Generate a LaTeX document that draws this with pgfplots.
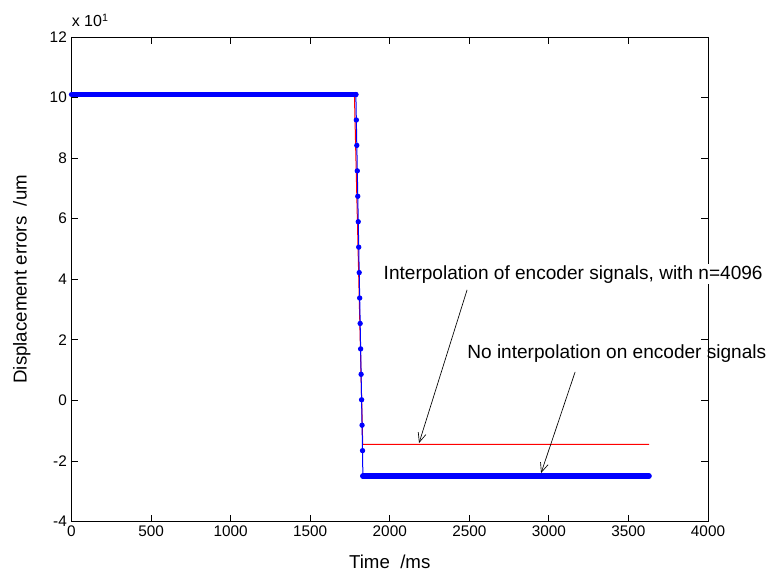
\documentclass[border=0pt]{standalone}
\usepackage{fontspec}
\setmainfont{Liberation Sans}
\usepackage{pgfplots}
\pgfplotsset{compat=1.18}
\usetikzlibrary{arrows.meta}
\begin{document}
\begin{tikzpicture}
\useasboundingbox[fill=white] (0,0) rectangle (575.25pt,431.25pt);
\begin{axis}[
  at={(53.625pt,40.125pt)}, anchor=south west,
  scale only axis, width=477.375pt, height=363.375pt,
  xmin=0, xmax=4000, ymin=-4, ymax=12,
  xtick={0,500,...,4000}, ytick={-4,-2,...,12},
  tick align=inside, major tick length=5pt,
  tick style={black, line width=0.6pt},
  axis line style={line width=0.6pt},
  scaled ticks=false,
  /pgf/number format/assume math mode=true,
  /pgf/number format/1000 sep={},
  tick label style={font=\fontsize{11.5}{13}\selectfont},
  label style={font=\fontsize{14}{16}\selectfont},
  xlabel={Time\ \ /ms},
  ylabel={Displacement errors\ \ /um},
  xlabel style={at={(axis description cs:0.5,-0.0837)}, anchor=center},
  ylabel style={at={(axis description cs:-0.0781,0.5)}, anchor=center},
  clip=false,
]
% red: interpolation n=4096
\addplot[red, line width=0.75pt, mark=none] coordinates {
  (0,10.1) (1778,10.1) (1830,-1.45) (3630,-1.45)
};
% blue: no interpolation, thick flat parts
\addplot[blue, line width=4pt, line cap=round, mark=none] coordinates {
  (0,10.1) (1787,10.1)
};
\addplot[blue, line width=4pt, line cap=round, mark=none] coordinates {
  (1831,-2.5) (3630,-2.5)
};
% blue drop with sample markers
\addplot[blue, line width=0.75pt, mark=*, mark size=1.6pt] coordinates {
  (1787,10.1) (1790,9.26) (1793,8.42) (1796,7.58) (1799,6.74) (1802,5.9)
  (1805,5.06) (1808,4.22) (1811,3.38) (1814,2.54) (1817,1.7) (1820,0.86)
  (1823,0.02) (1826,-0.82) (1829,-1.66) (1831,-2.5)
};
\node[anchor=west, inner sep=1pt, fill=white, font=\fontsize{14.3}{16}\selectfont] at (axis cs:1952,4.17) {Interpolation of encoder signals, with n=4096};
\node[anchor=west, inner sep=0pt, font=\fontsize{14.3}{16}\selectfont] at (axis cs:2486,1.56) {No interpolation on encoder signals};
\draw[line width=0.5pt, -{Straight Barb[length=7pt,width=6pt]}] (axis cs:2486,3.65) -- (axis cs:2184,-1.41);
\draw[line width=0.5pt, -{Straight Barb[length=7pt,width=6pt]}] (axis cs:3165,0.94) -- (axis cs:2951,-2.40);
\node[anchor=base west, inner sep=0pt, yshift=7.5pt, font=\fontsize{12}{14}\selectfont] at (rel axis cs:0,1) {x 10\textsuperscript{1}};
\end{axis}
\end{tikzpicture}
\end{document}
